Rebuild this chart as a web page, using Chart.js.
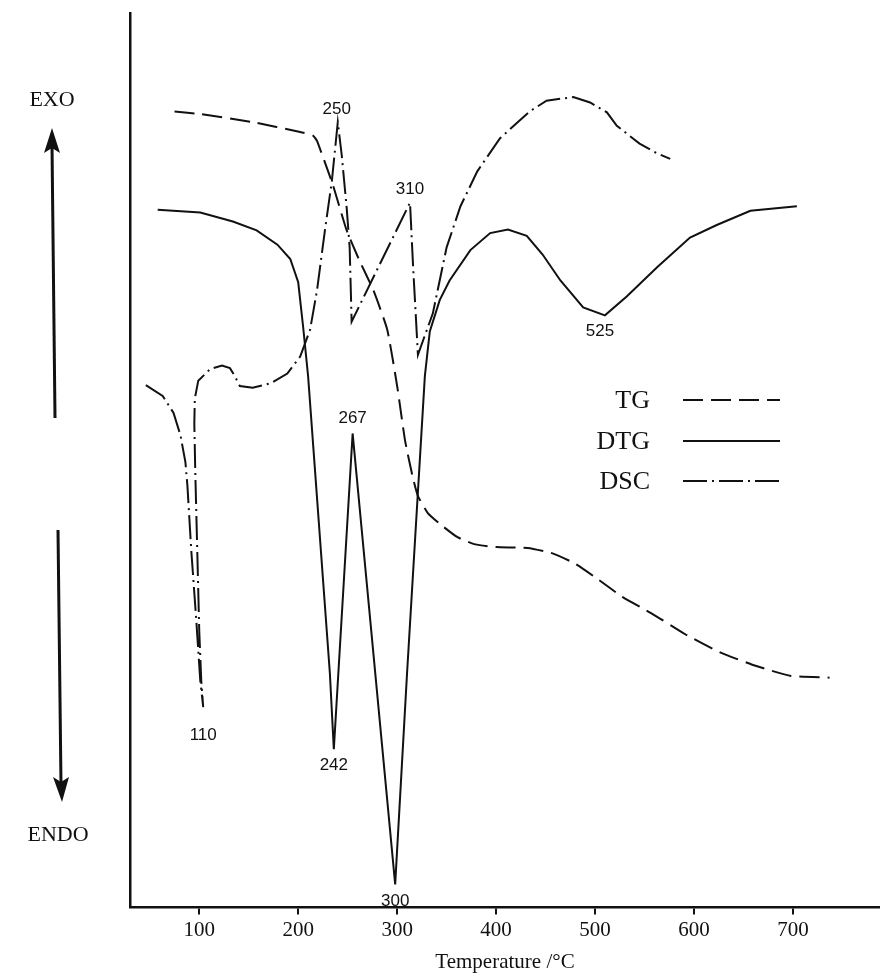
<!DOCTYPE html>
<html>
<head>
<meta charset="utf-8">
<script src="https://cdn.jsdelivr.net/npm/chart.js@4.4.1/dist/chart.umd.min.js"></script>
<style>
  html, body { margin: 0; padding: 0; background: #fff; }
</style>
</head>
<body>
<canvas id="thermoChart" width="880" height="978"></canvas>
<script>
// values: temperature in °C, signal in arbitrary units (0 = x axis, 100 = top)
const tgTemp   = [75, 101, 154, 202, 215, 219, 235, 249, 262, 276, 290, 300, 308, 316, 321, 331, 343, 361, 379, 400, 432, 457, 479, 503, 528, 557, 592, 627, 663, 698, 737];
const tgSignal = [89.0, 88.7, 87.8, 86.7, 86.3, 85.7, 80.8, 75.7, 72.3, 69.0, 64.6, 58.3, 52.2, 48.0, 46.0, 44.1, 42.9, 41.4, 40.6, 40.3, 40.2, 39.6, 38.5, 36.7, 34.7, 32.9, 30.5, 28.5, 27.0, 25.9, 25.7];

const dtgTemp   = [58, 101, 134, 158, 179, 192, 200, 205, 210, 232, 236, 255, 298, 310, 328, 333, 343, 353, 374, 394, 412, 431, 447, 465, 488, 510, 532, 563, 596, 623, 657, 704];
const dtgSignal = [78.0, 77.7, 76.7, 75.7, 74.1, 72.5, 69.9, 64.9, 59.4, 26.2, 17.7, 53.0, 2.6, 26.2, 59.4, 64.4, 67.9, 70.1, 73.5, 75.4, 75.8, 75.1, 73.0, 70.1, 67.1, 66.2, 68.3, 71.6, 74.9, 76.3, 77.9, 78.4];

const dscTemp   = [46, 63, 74, 81, 86, 88, 92, 97, 101, 104, 102, 100, 98, 96, 95, 95.5, 99, 111, 123, 131, 136, 141, 154, 172, 189, 202, 212, 219, 227, 234, 237, 240, 244, 249, 252, 254, 313, 316, 321, 336, 350, 364, 381, 404, 434, 451, 478, 495, 512, 522, 545, 563, 576];
const dscSignal = [58.4, 57.2, 55.3, 52.8, 49.8, 47.2, 39.8, 32.1, 25.4, 22.4, 25.4, 30.9, 39.8, 48.6, 54.1, 56.9, 58.9, 60.2, 60.6, 60.3, 59.4, 58.3, 58.1, 58.6, 59.7, 61.6, 64.6, 69.0, 75.7, 81.2, 84.5, 87.8, 84.1, 78.2, 73.8, 65.5, 78.8, 71.9, 61.8, 66.4, 73.8, 78.4, 82.3, 86.0, 89.0, 90.2, 90.6, 90.0, 88.9, 87.4, 85.4, 84.3, 83.7];

const xTicks = [100, 200, 300, 400, 500, 600, 700];

// peak annotations: printed value and the curve point it belongs to
const peakText   = ['110', '242', '267', '300', '250', '310', '525'];
const peakTemp   = [104, 236, 255, 298, 240, 313, 510];
const peakSignal = [22.4, 17.7, 53.0, 2.6, 87.8, 78.8, 66.2];

const legendNames = ['TG', 'DTG', 'DSC'];

const ink = '#111';
const tgDash = [20, 8];
const dscDash = [24, 5, 2, 5];

function toPoints(xs, ys) {
  return xs.map((x, i) => ({ x: x, y: ys[i] }));
}

// arrows, EXO/ENDO, legend and peak numbers
const decorations = {
  id: 'decorations',
  afterDraw(chart) {
    const c = chart.ctx;
    const xs = chart.scales.x, ys = chart.scales.y;
    c.save();
    c.strokeStyle = ink;
    c.fillStyle = ink;

    // EXO / ENDO arrows
    c.lineWidth = 3;
    c.beginPath(); c.moveTo(55, 418); c.lineTo(52, 145); c.stroke();
    c.beginPath(); c.moveTo(52, 128); c.lineTo(44, 153); c.lineTo(52, 148); c.lineTo(60, 153); c.closePath(); c.fill();
    c.beginPath(); c.moveTo(58, 530); c.lineTo(61, 785); c.stroke();
    c.beginPath(); c.moveTo(62, 802); c.lineTo(53, 777); c.lineTo(61, 782); c.lineTo(69, 777); c.closePath(); c.fill();

    c.font = '22px "Liberation Serif"';
    c.textAlign = 'center';
    c.textBaseline = 'middle';
    c.fillText('EXO', 52, 100);
    c.fillText('ENDO', 58, 835);

    // legend
    const legendY = [400, 441, 481];
    const dashes = [tgDash, [], dscDash];
    c.font = '26px "Liberation Serif"';
    c.textAlign = 'right';
    legendNames.forEach((name, i) => {
      c.fillText(name, 650, legendY[i] + 1);
      c.lineWidth = 2;
      c.setLineDash(dashes[i]);
      c.beginPath(); c.moveTo(683, legendY[i]); c.lineTo(780, legendY[i]); c.stroke();
    });
    c.setLineDash([]);

    // peak numbers
    const offsets = [28, 16, -15, 17, -13, -13, 16];
    const dxs = [0, 0, 0, 0, -1, 0, -5];
    c.font = '17px "Liberation Sans"';
    c.textAlign = 'center';
    peakText.forEach((t, i) => {
      const px = xs.getPixelForValue(peakTemp[i]) + dxs[i];
      const py = ys.getPixelForValue(peakSignal[i]) + offsets[i];
      c.fillText(t, px, py);
    });
    c.restore();
  }
};

const ctx = document.getElementById('thermoChart').getContext('2d');
const thermoChart = new Chart(ctx, {
  type: 'line',
  data: {
    datasets: [
      {
        label: 'TG',
        data: toPoints(tgTemp, tgSignal),
        borderColor: ink,
        borderWidth: 2,
        borderDash: tgDash,
        pointRadius: 0,
        tension: 0.15,
        fill: false
      },
      {
        label: 'DTG',
        data: toPoints(dtgTemp, dtgSignal),
        borderColor: ink,
        borderWidth: 2,
        pointRadius: 0,
        tension: 0,
        fill: false
      },
      {
        label: 'DSC',
        data: toPoints(dscTemp, dscSignal),
        borderColor: ink,
        borderWidth: 2,
        borderDash: dscDash,
        pointRadius: 0,
        tension: 0,
        fill: false
      }
    ]
  },
  options: {
    responsive: false,
    animation: false,
    devicePixelRatio: 1,
    layout: { padding: { left: 122, top: 13, right: 0, bottom: 3 } },
    plugins: {
      legend: { display: false },
      tooltip: { enabled: false }
    },
    scales: {
      x: {
        type: 'linear',
        min: 30,
        max: 788,
        afterBuildTicks: axis => { axis.ticks = xTicks.map(v => ({ value: v })); },
        ticks: {
          color: ink,
          padding: 3,
          maxRotation: 0,
          font: { family: '"Liberation Serif"', size: 21 }
        },
        grid: { display: true, drawOnChartArea: false, drawTicks: true, tickLength: 7, color: ink, lineWidth: 2 },
        border: { display: true, color: ink, width: 2.5 },
        title: {
          display: true,
          text: 'Temperature /°C',
          color: ink,
          padding: { top: 4, bottom: 0 },
          font: { family: '"Liberation Serif"', size: 21 }
        }
      },
      y: {
        min: 0,
        max: 100,
        ticks: { display: false },
        grid: { display: false },
        border: { display: true, color: ink, width: 2.5 }
      }
    }
  },
  plugins: [decorations]
});
</script>
</body>
</html>
